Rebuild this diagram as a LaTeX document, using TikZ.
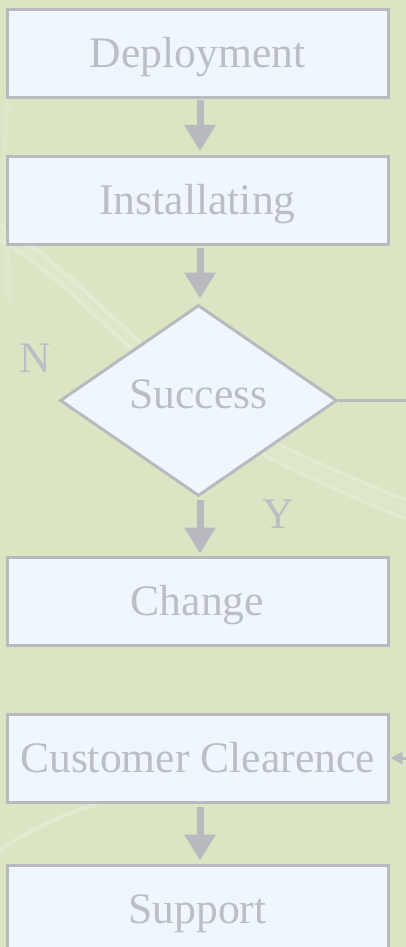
\documentclass[tikz,border=0pt]{standalone}
\usepackage{fontspec}
\setmainfont{Liberation Serif}
\usetikzlibrary{arrows.meta,shapes.geometric}
\definecolor{bggreen}{HTML}{DBE5C3}
\definecolor{boxfill}{HTML}{EFF7FD}
\definecolor{edgegray}{HTML}{B9BAC0}
\definecolor{txtgray}{HTML}{BBBEC4}
\tikzset{
  flowbox/.style={draw=edgegray, line width=3pt, fill=boxfill, text=txtgray,
    minimum width=381pt, minimum height=88pt, inner sep=0pt,
    text height=34pt, text depth=6pt,
    font=\fontsize{43.6}{50}\selectfont},
  decision/.style={diamond, draw=edgegray, line width=3pt, fill=boxfill, text=txtgray,
    minimum width=277pt, minimum height=191pt, inner sep=0pt,
    text height=34pt, text depth=6pt,
    font=\fontsize{43.6}{50}\selectfont},
  bigarrow/.style={draw=edgegray, line width=7pt,
    -{Triangle[width=30pt,length=26pt]}},
  thinline/.style={draw=edgegray, line width=3pt},
  smallarrow/.style={draw=edgegray, line width=3pt,
    -{Triangle[width=12pt,length=12pt]}},
  yn/.style={text=txtgray, font=\fontsize{43.6}{50}\selectfont, inner sep=0pt},
  swoosh/.style={draw=white, line width=4pt, opacity=0.22, line cap=round},
}
\begin{document}
\begin{tikzpicture}[x=1pt,y=-1pt]
\clip (0,0) rectangle (406,947);
\fill[bggreen] (0,0) rectangle (406,947);
% background swooshes
\draw[swoosh] (0,225) .. controls (80,270) and (160,380) .. (270,440) .. controls (330,470) and (380,490) .. (420,505);
\draw[swoosh] (0,240) .. controls (80,285) and (160,395) .. (270,458) .. controls (330,488) and (380,508) .. (420,525);
\draw[swoosh,line width=10pt,opacity=0.1] (0,232) .. controls (80,277) and (160,387) .. (270,449) .. controls (330,479) and (380,499) .. (420,515);
\draw[swoosh,line width=6pt,opacity=0.1] (8,90) .. controls (3,150) and (3,220) .. (10,300);
\draw[swoosh] (0,850) .. controls (30,830) and (60,815) .. (95,805);
% nodes
\node[flowbox] (dep) at (197.5,53.5) {Deployment};
\node[flowbox] (inst) at (197.5,200.5) {Installating};
\node[decision] (succ) at (198.5,400.5) {\raisebox{6pt}{Success}};
\node[flowbox] (chg) at (197.5,601) {Change};
\node[flowbox] (cc) at (197.5,758) {Customer Clearence};
\node[flowbox] (sup) at (197.5,909) {Support};
\node[yn] (n) at (35,358) {N};
\node[yn] (y) at (278,514) {Y};
% connectors
\draw[bigarrow, shorten <=1pt, shorten >=4pt] (dep.south -| 200,0) -- (inst.north -| 200,0);
\draw[bigarrow, shorten <=2pt, shorten >=5pt] (inst.south -| 200,0) -- (succ.north -| 200,0);
\draw[bigarrow, shorten <=2pt, shorten >=2pt] (succ.south -| 200,0) -- (chg.north -| 200,0);
\draw[bigarrow, shorten <=3pt, shorten >=3pt] (cc.south -| 200,0) -- (sup.north -| 200,0);
\coordinate (side) at (440,0);
\draw[thinline] (succ.east) -- (succ.east -| side);
\draw[smallarrow, shorten >=1pt] (cc.east -| side) -- (cc.east);
\end{tikzpicture}
\end{document}
